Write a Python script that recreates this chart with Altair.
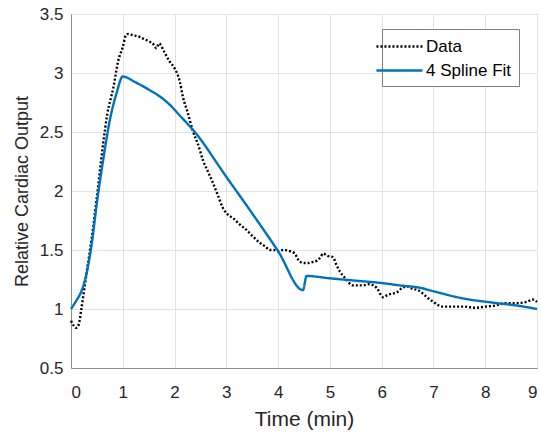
import altair as alt
import pandas as pd

# Measured data (dotted black)
data_t = [0, 0.05, 0.1, 0.15, 0.2, 0.25, 0.3, 0.43, 0.5, 0.62, 0.7, 0.82, 0.91, 1.0, 1.06,
          1.1, 1.2, 1.3, 1.4, 1.5, 1.6, 1.65, 1.7, 1.8, 1.9, 2.0, 2.1, 2.16, 2.25, 2.36,
          2.45, 2.55, 2.65, 2.74, 2.84, 2.93, 3.03, 3.13, 3.25, 3.39, 3.5, 3.65, 3.75,
          3.84, 3.92, 4.0, 4.1, 4.23, 4.32, 4.42, 4.5, 4.58, 4.68, 4.75, 4.82, 4.87,
          4.95, 5.06, 5.12, 5.19, 5.3, 5.44, 5.55, 5.64, 5.75, 5.9, 6.03, 6.12, 6.2,
          6.29, 6.4, 6.5, 6.6, 6.7, 6.8, 6.9, 7.0, 7.1, 7.2, 7.4, 7.6, 7.8, 8.0, 8.2,
          8.4, 8.6, 8.8, 8.92, 9.0]
data_y = [0.9, 0.86, 0.84, 0.87, 1.0, 1.15, 1.3, 1.7, 1.95, 2.4, 2.65, 2.88, 3.1, 3.22, 3.32,
          3.33, 3.32, 3.31, 3.29, 3.27, 3.24, 3.21, 3.25, 3.18, 3.1, 3.04, 2.93, 2.8, 2.67, 2.5,
          2.4, 2.26, 2.16, 2.07, 1.96, 1.86, 1.8, 1.77, 1.72, 1.67, 1.62, 1.56, 1.53,
          1.5, 1.5, 1.49, 1.5, 1.49, 1.47, 1.4, 1.39, 1.39, 1.4, 1.41, 1.44, 1.47,
          1.45, 1.44, 1.38, 1.32, 1.26, 1.2, 1.2, 1.2, 1.21, 1.18, 1.1, 1.12, 1.13,
          1.14, 1.18, 1.19, 1.17, 1.16, 1.13, 1.09, 1.06, 1.03, 1.02, 1.02, 1.02, 1.01, 1.02, 1.03,
          1.05, 1.05, 1.06, 1.08, 1.06]

# 4 spline fit (blue)
fit_t = [0, 0.1, 0.2, 0.3, 0.4, 0.5, 0.62, 0.75, 0.88, 1.0, 1.25, 1.5, 1.75, 1.91, 2.1, 2.25,
         2.39, 3.0, 3.5, 4.0, 4.48, 4.55, 5.0, 5.5, 6.0, 6.35, 6.74, 7.0, 7.57, 8.22, 8.6, 9.0]
fit_y = [1.0, 1.07, 1.15, 1.3, 1.55, 1.9, 2.26, 2.6, 2.83, 2.97, 2.92, 2.86, 2.79, 2.73, 2.64, 2.57,
         2.5, 2.12, 1.81, 1.49, 1.16, 1.28, 1.26, 1.24, 1.22, 1.2, 1.18, 1.15, 1.09, 1.05, 1.03, 1.0]

x_ticks = [0, 1, 2, 3, 4, 5, 6, 7, 8, 9]
y_ticks = [0.5, 1, 1.5, 2, 2.5, 3, 3.5]

series_names = ["Data", "4 Spline Fit"]

df = pd.concat([
    pd.DataFrame({"t": data_t, "y": data_y, "series": series_names[0]}),
    pd.DataFrame({"t": fit_t, "y": fit_y, "series": series_names[1]}),
])

FONT = "Liberation Sans"

chart = alt.Chart(df).mark_line(strokeWidth=2.4, interpolate="monotone").encode(
    x=alt.X("t:Q", scale=alt.Scale(domain=[0, 9], nice=False),
            axis=alt.Axis(title="Time (min)", values=x_ticks, format="d")),
    y=alt.Y("y:Q", scale=alt.Scale(domain=[0.5, 3.5], nice=False),
            axis=alt.Axis(title="Relative Cardiac Output", values=y_ticks, format="~g")),
    color=alt.Color("series:N", scale=alt.Scale(domain=series_names, range=["#000000", "#0072BD"]),
                    legend=alt.Legend(title=None, orient="none", legendX=311, legendY=15,
                                      symbolType="M-2.5,0H2.5", symbolSize=340, symbolStrokeWidth=2.4,
                                      labelFontSize=17, labelFont=FONT, labelColor="#000000",
                                      fillColor="#ffffff", strokeColor="#7f7f7f", padding=7,
                                      rowPadding=5, labelOffset=16, labelLimit=200)),
    strokeDash=alt.StrokeDash("series:N", scale=alt.Scale(domain=series_names, range=[[2, 2], [1, 0]]),
                              legend=None),
    detail="series:N",
    order="t:Q",
).properties(
    width=466, height=354,
    autosize=alt.AutoSizeParams(type="none"),
    padding={"left": 71, "top": 14, "right": 4, "bottom": 68},
).configure_view(
    stroke="#8c8c8c", strokeWidth=1
).configure_axis(
    grid=True, gridColor="#e3e3e3", gridWidth=1,
    domainColor="#8c8c8c", domainWidth=1,
    ticks=False,
    labelFont=FONT, labelFontSize=17, labelColor="#262626",
    titleFont=FONT, titleFontWeight="normal", titleColor="#262626",
).configure_axisX(
    labelPadding=16, titlePadding=8, titleFontSize=21
).configure_axisY(
    labelPadding=8, titlePadding=8, titleFontSize=18
)

chart.save("out.html", embed_options={"renderer": "svg", "actions": False})
